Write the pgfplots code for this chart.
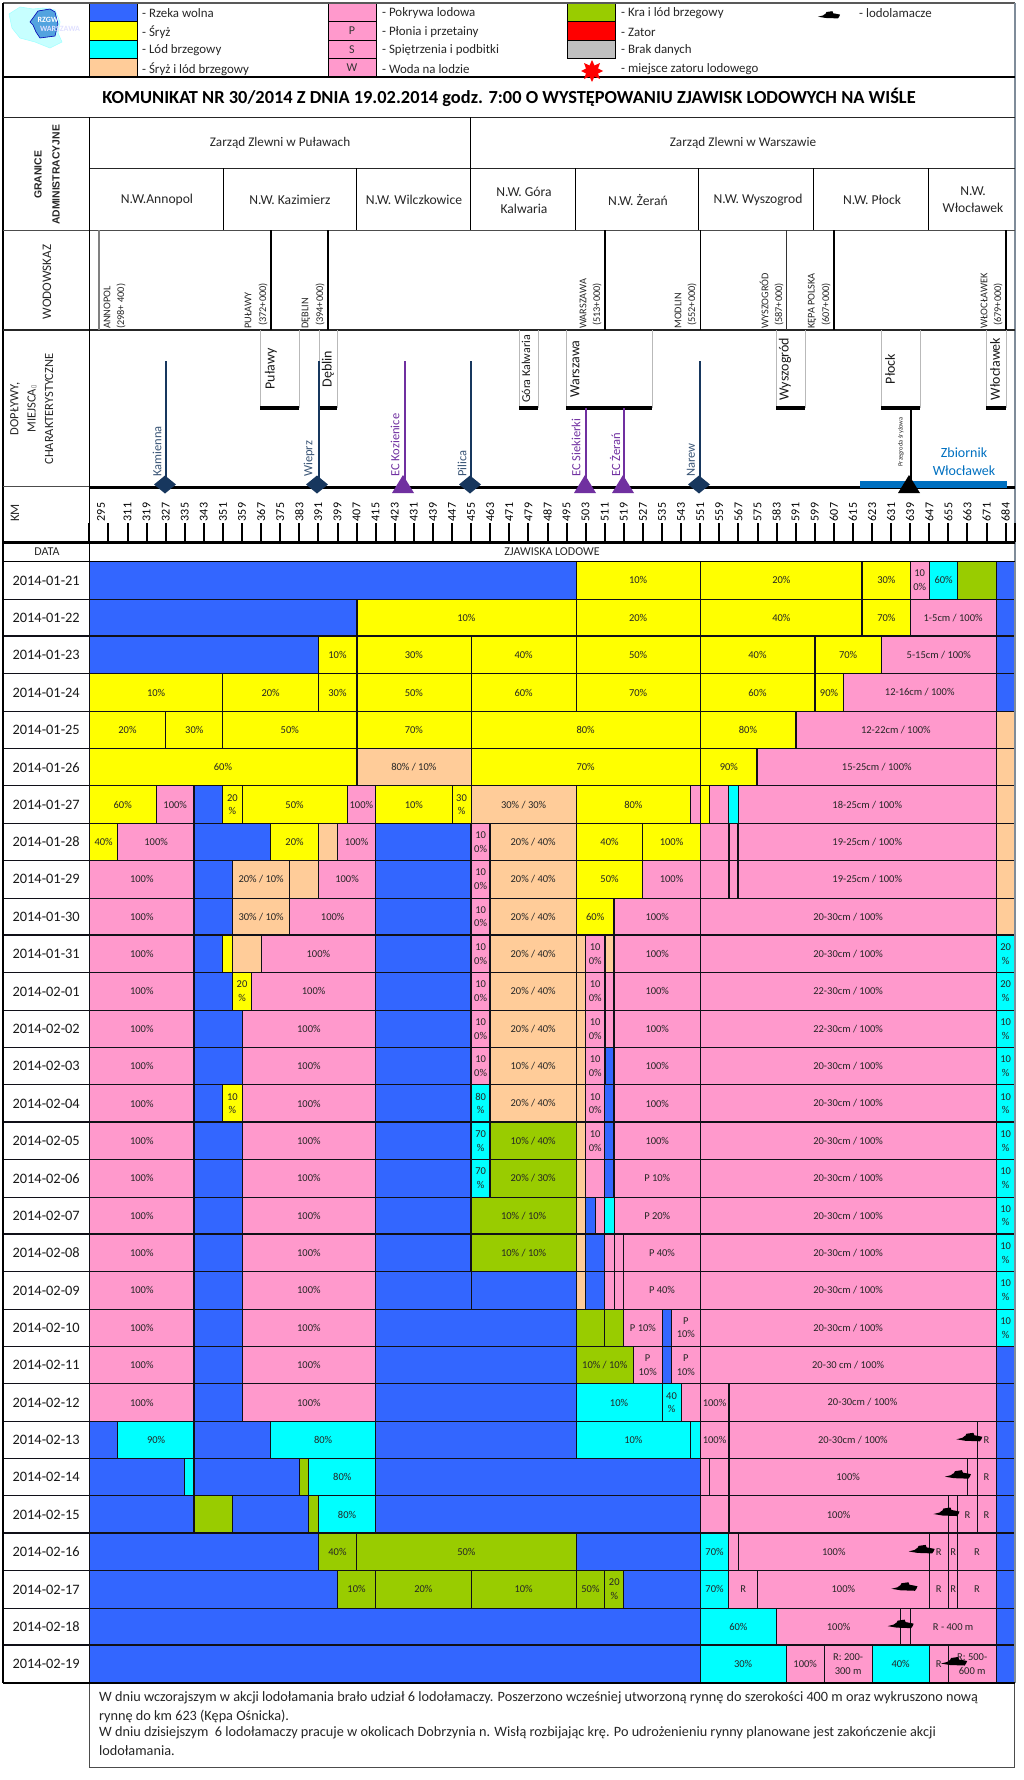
\documentclass[border=0pt]{standalone}
\usepackage{fontspec}
\setmainfont{Carlito}
\newfontfamily\arialf{Liberation Sans}
\newfontfamily\dejaf{DejaVu Sans}
\usepackage{pgfplots}
\pgfplotsset{compat=1.18}
\definecolor{cB}{HTML}{3366FF}
\definecolor{cY}{HTML}{FFFF00}
\definecolor{cC}{HTML}{00FFFF}
\definecolor{cO}{HTML}{FFCC99}
\definecolor{cP}{HTML}{FF99CC}
\definecolor{cG}{HTML}{99CC00}
\definecolor{cR}{HTML}{FF0000}
\definecolor{cS}{HTML}{C0C0C0}
\definecolor{navy}{HTML}{17375E}
\definecolor{purp}{HTML}{7030A0}
\definecolor{zb}{HTML}{0070C0}
\definecolor{edge}{HTML}{7F8C99}
\definecolor{ln}{HTML}{101018}
\pgfdeclareplotmark{dia}{\pgfpathmoveto{\pgfqpoint{-11pt}{0pt}}\pgfpathlineto{\pgfqpoint{0pt}{9pt}}\pgfpathlineto{\pgfqpoint{11pt}{0pt}}\pgfpathlineto{\pgfqpoint{0pt}{-9pt}}\pgfpathclose\pgfusepathqfill}
\pgfdeclareplotmark{tri}{\pgfpathmoveto{\pgfqpoint{-11pt}{-6pt}}\pgfpathlineto{\pgfqpoint{0pt}{12pt}}\pgfpathlineto{\pgfqpoint{11pt}{-6pt}}\pgfpathclose\pgfusepathqfill}
\pgfdeclareplotmark{kmt}{\pgfpathmoveto{\pgfqpoint{0pt}{0pt}}\pgfpathlineto{\pgfqpoint{0pt}{19pt}}\pgfusepathqstroke}
\pgfdeclareplotmark{ship}{\pgfpathmoveto{\pgfqpoint{-13pt}{-2pt}}\pgfpathlineto{\pgfqpoint{-7pt}{-0.5pt}}\pgfpathlineto{\pgfqpoint{-5pt}{1pt}}\pgfpathlineto{\pgfqpoint{-4pt}{1.5pt}}\pgfpathlineto{\pgfqpoint{-3pt}{3.5pt}}\pgfpathlineto{\pgfqpoint{4pt}{4.5pt}}\pgfpathlineto{\pgfqpoint{5pt}{2pt}}\pgfpathlineto{\pgfqpoint{8pt}{1.5pt}}\pgfpathlineto{\pgfqpoint{13pt}{0.5pt}}\pgfpathlineto{\pgfqpoint{12pt}{-2pt}}\pgfpathlineto{\pgfqpoint{10.5pt}{-4pt}}\pgfpathlineto{\pgfqpoint{-4pt}{-3.5pt}}\pgfpathclose\pgfusepathqfill}
\pgfdeclareplotmark{burst}{\pgfpathmoveto{\pgfqpoint{0pt}{11pt}}\pgfpathlineto{\pgfqpoint{2.5pt}{5.5pt}}\pgfpathlineto{\pgfqpoint{8pt}{8pt}}\pgfpathlineto{\pgfqpoint{6pt}{2.5pt}}\pgfpathlineto{\pgfqpoint{11pt}{0pt}}\pgfpathlineto{\pgfqpoint{6pt}{-2.5pt}}\pgfpathlineto{\pgfqpoint{8pt}{-8pt}}\pgfpathlineto{\pgfqpoint{2.5pt}{-5.5pt}}\pgfpathlineto{\pgfqpoint{0pt}{-11pt}}\pgfpathlineto{\pgfqpoint{-2.5pt}{-5.5pt}}\pgfpathlineto{\pgfqpoint{-8pt}{-8pt}}\pgfpathlineto{\pgfqpoint{-6pt}{-2.5pt}}\pgfpathlineto{\pgfqpoint{-11pt}{0pt}}\pgfpathlineto{\pgfqpoint{-6pt}{2.5pt}}\pgfpathlineto{\pgfqpoint{-8pt}{8pt}}\pgfpathlineto{\pgfqpoint{-2.5pt}{5.5pt}}\pgfpathclose\pgfusepathqfill}
% one coloured stretch of river in one day's row
\newcommand\Seg[5]{%
 \pgfmathsetmacro\sb{#1+1}\pgfmathsetmacro\sm{(#2+#3)/2}\pgfmathsetmacro\sc{#1+.5}%
 \edef\tmp{\noexpand\addplot[fill=#4,draw=ln,line width=1pt] coordinates {(#2,#1)(#3,#1)(#3,\sb)(#2,\sb)} --cycle;}\tmp
 \if\relax\detokenize{#5}\relax\else
 \edef\tmp{\noexpand\node[align=center,inner sep=0pt,text=black!85,font=\noexpand\fontsize{10.5}{13.7}\noexpand\selectfont] at (axis cs:\sm,\sc) {\unexpanded{#5}};}\tmp
 \fi}
\newcommand\Day[2]{%
 \pgfmathsetmacro\sb{#1+1}\pgfmathsetmacro\sc{#1+.5}%
 \edef\tmp{\noexpand\addplot[fill=white,draw=ln,line width=1pt] coordinates {(-4.52,#1)(0,#1)(0,\sb)(-4.52,\sb)} --cycle;}\tmp
 \edef\tmp{\noexpand\node[inner sep=0pt,text=black!90,font=\noexpand\fontsize{14.4}{16}\noexpand\selectfont] at (axis cs:-2.26,\sc) {#2};}\tmp}
% pixel axis helpers
\newcommand\HL[6]{\addplot[#5,line width=#6pt] coordinates {(#1,#2)(#3,#4)};}
\newcommand\TK[4]{\addplot[ln,line width=2pt] coordinates {(#1,#2)(#3,#4)};}
\newcommand\Rect[6]{\addplot[fill=#5,draw=black,line width=.8pt] coordinates {(#1,#2)(#3,#2)(#3,#4)(#1,#4)} --cycle;
 \node[inner sep=0pt,font=\fontsize{12}{14}\selectfont,text=black!80] at (axis cs:{(#1+#3)/2},{(#2+#4)/2}) {#6};}
\newcommand\T[5]{\node[inner sep=0pt,align=center,text=#4,font=\fontsize{#3}{17}\selectfont] at (axis cs:#1,#2) {#5};}
\newcommand\Lt[4][12.9]{\node[inner sep=0pt,anchor=west,text=black!85,font=\fontsize{#1}{14}\selectfont] at (axis cs:#2,#3) {#4};}
\newcommand\Rt[5]{\node[inner sep=0pt,anchor=west,rotate=90,text=#4,font=\fontsize{#3}{14}\selectfont] at (axis cs:#1,#2) {#5};}
\newcommand\Bx[5]{\addplot[gray!55,line width=1pt] coordinates {(#1,330)(#1,408)};\addplot[gray!55,line width=1pt] coordinates {(#2,330)(#2,408)};\addplot[black,line width=4pt] coordinates {(#1,408)(#2,408)};\node[inner sep=0pt,rotate=90,text=black!90,font=\fontsize{#4}{14}\selectfont] at (axis cs:#3,369) {#5};}
\newcommand\Km[2]{\pgfmathsetmacro\sm{89.3+19.09*#1}\edef\tmp{\noexpand\node[inner sep=0pt,rotate=90,text=black,font=\noexpand\fontsize{12}{14}\noexpand\selectfont] at (axis cs:\sm,512) {#2};}\tmp}
\begin{document}
\begin{tikzpicture}[x=1pt,y=1pt]
\path[use as bounding box] (0,0) rectangle (1024,1780);
%================ table of days ================
\begin{axis}[at={(0,0)},anchor=south west,scale only axis,width=1024pt,height=1780pt,
 xmin=-4.678,xmax=48.963,ymin=-15.031,ymax=32.601,y dir=reverse,hide axis,clip=false]
\Day{0}{2014-01-21}\Seg{0}{0}{25.5}{cB}{}\Seg{0}{25.5}{32}{cY}{10\%}\Seg{0}{32}{40.5}{cY}{20\%}\Seg{0}{40.5}{43}{cY}{30\%}\Seg{0}{43}{44}{cP}{10\\0\%}\Seg{0}{44}{45.5}{cC}{60\%}\Seg{0}{45.5}{47.5}{cG}{}\Seg{0}{47.5}{48.5}{cB}{}
\Day{1}{2014-01-22}\Seg{1}{0}{14}{cB}{}\Seg{1}{14}{25.5}{cY}{10\%}\Seg{1}{25.5}{32}{cY}{20\%}\Seg{1}{32}{40.5}{cY}{40\%}\Seg{1}{40.5}{43}{cY}{70\%}\Seg{1}{43}{47.5}{cP}{1-5cm / 100\%}\Seg{1}{47.5}{48.5}{cB}{}
\Day{2}{2014-01-23}\Seg{2}{0}{12}{cB}{}\Seg{2}{12}{14}{cY}{10\%}\Seg{2}{14}{20}{cY}{30\%}\Seg{2}{20}{25.5}{cY}{40\%}\Seg{2}{25.5}{32}{cY}{50\%}\Seg{2}{32}{38}{cY}{40\%}\Seg{2}{38}{41.5}{cY}{70\%}\Seg{2}{41.5}{47.5}{cP}{5-15cm / 100\%}\Seg{2}{47.5}{48.5}{cB}{}
\Day{3}{2014-01-24}\Seg{3}{0}{7}{cY}{10\%}\Seg{3}{7}{12}{cY}{20\%}\Seg{3}{12}{14}{cY}{30\%}\Seg{3}{14}{20}{cY}{50\%}\Seg{3}{20}{25.5}{cY}{60\%}\Seg{3}{25.5}{32}{cY}{70\%}\Seg{3}{32}{38}{cY}{60\%}\Seg{3}{38}{39.5}{cY}{90\%}\Seg{3}{39.5}{47.5}{cP}{12-16cm / 100\%}\Seg{3}{47.5}{48.5}{cB}{}
\Day{4}{2014-01-25}\Seg{4}{0}{4}{cY}{20\%}\Seg{4}{4}{7}{cY}{30\%}\Seg{4}{7}{14}{cY}{50\%}\Seg{4}{14}{20}{cY}{70\%}\Seg{4}{20}{32}{cY}{80\%}\Seg{4}{32}{37}{cY}{80\%}\Seg{4}{37}{47.5}{cP}{12-22cm / 100\%}\Seg{4}{47.5}{48.5}{cO}{}
\Day{5}{2014-01-26}\Seg{5}{0}{14}{cY}{60\%}\Seg{5}{14}{20}{cO}{80\% / 10\%}\Seg{5}{20}{32}{cY}{70\%}\Seg{5}{32}{35}{cY}{90\%}\Seg{5}{35}{47.5}{cP}{15-25cm / 100\%}\Seg{5}{47.5}{48.5}{cO}{}
\Day{6}{2014-01-27}\Seg{6}{0}{3.5}{cY}{60\%}\Seg{6}{3.5}{5.5}{cP}{100\%}\Seg{6}{5.5}{7}{cB}{}\Seg{6}{7}{8}{cY}{20\\\%}\Seg{6}{8}{13.5}{cY}{50\%}\Seg{6}{13.5}{15}{cP}{100\%}\Seg{6}{15}{19}{cY}{10\%}\Seg{6}{19}{20}{cY}{30\\\%}\Seg{6}{20}{25.5}{cO}{30\% / 30\%}\Seg{6}{25.5}{31.5}{cY}{80\%}\Seg{6}{31.5}{32}{cP}{}\Seg{6}{32}{32.5}{cY}{}\Seg{6}{32.5}{33.5}{cP}{}\Seg{6}{33.5}{34}{cC}{}\Seg{6}{34}{47.5}{cP}{18-25cm / 100\%}\Seg{6}{47.5}{48.5}{cO}{}
\Day{7}{2014-01-28}\Seg{7}{0}{1.5}{cY}{40\%}\Seg{7}{1.5}{5.5}{cP}{100\%}\Seg{7}{5.5}{9.5}{cB}{}\Seg{7}{9.5}{12}{cY}{20\%}\Seg{7}{12}{13}{cO}{}\Seg{7}{13}{15}{cP}{100\%}\Seg{7}{15}{20}{cB}{}\Seg{7}{20}{21}{cP}{10\\0\%}\Seg{7}{21}{25.5}{cO}{20\% / 40\%}\Seg{7}{25.5}{29}{cY}{40\%}\Seg{7}{29}{32}{cY}{100\%}\Seg{7}{32}{33.5}{cP}{}\Seg{7}{33.5}{34}{cP}{}\Seg{7}{34}{47.5}{cP}{19-25cm / 100\%}\Seg{7}{47.5}{48.5}{cO}{}
\Day{8}{2014-01-29}\Seg{8}{0}{5.5}{cP}{100\%}\Seg{8}{5.5}{7.5}{cB}{}\Seg{8}{7.5}{10.5}{cO}{20\% / 10\%}\Seg{8}{10.5}{12}{cO}{}\Seg{8}{12}{15}{cP}{100\%}\Seg{8}{15}{20}{cB}{}\Seg{8}{20}{21}{cP}{10\\0\%}\Seg{8}{21}{25.5}{cO}{20\% / 40\%}\Seg{8}{25.5}{29}{cY}{50\%}\Seg{8}{29}{32}{cP}{100\%}\Seg{8}{32}{33.5}{cP}{}\Seg{8}{33.5}{34}{cP}{}\Seg{8}{34}{47.5}{cP}{19-25cm / 100\%}\Seg{8}{47.5}{48.5}{cO}{}
\Day{9}{2014-01-30}\Seg{9}{0}{5.5}{cP}{100\%}\Seg{9}{5.5}{7.5}{cB}{}\Seg{9}{7.5}{10.5}{cO}{30\% / 10\%}\Seg{9}{10.5}{15}{cP}{100\%}\Seg{9}{15}{20}{cB}{}\Seg{9}{20}{21}{cP}{10\\0\%}\Seg{9}{21}{25.5}{cO}{20\% / 40\%}\Seg{9}{25.5}{27.5}{cY}{60\%}\Seg{9}{27.5}{32}{cP}{100\%}\Seg{9}{32}{47.5}{cP}{20-30cm / 100\%}\Seg{9}{47.5}{48.5}{cO}{}
\Day{10}{2014-01-31}\Seg{10}{0}{5.5}{cP}{100\%}\Seg{10}{5.5}{7}{cB}{}\Seg{10}{7}{7.5}{cY}{}\Seg{10}{7.5}{9}{cO}{}\Seg{10}{9}{15}{cP}{100\%}\Seg{10}{15}{20}{cB}{}\Seg{10}{20}{21}{cP}{10\\0\%}\Seg{10}{21}{25.5}{cO}{20\% / 40\%}\Seg{10}{25.5}{26}{cO}{}\Seg{10}{26}{27}{cP}{10\\0\%}\Seg{10}{27}{27.5}{cO}{}\Seg{10}{27.5}{32}{cP}{100\%}\Seg{10}{32}{47.5}{cP}{20-30cm / 100\%}\Seg{10}{47.5}{48.5}{cC}{20\\\%}
\Day{11}{2014-02-01}\Seg{11}{0}{5.5}{cP}{100\%}\Seg{11}{5.5}{7.5}{cB}{}\Seg{11}{7.5}{8.5}{cY}{20\\\%}\Seg{11}{8.5}{15}{cP}{100\%}\Seg{11}{15}{20}{cB}{}\Seg{11}{20}{21}{cP}{10\\0\%}\Seg{11}{21}{25.5}{cO}{20\% / 40\%}\Seg{11}{25.5}{26}{cO}{}\Seg{11}{26}{27}{cP}{10\\0\%}\Seg{11}{27}{27.5}{cP}{}\Seg{11}{27.5}{32}{cP}{100\%}\Seg{11}{32}{47.5}{cP}{22-30cm / 100\%}\Seg{11}{47.5}{48.5}{cC}{20\\\%}
\Day{12}{2014-02-02}\Seg{12}{0}{5.5}{cP}{100\%}\Seg{12}{5.5}{8}{cB}{}\Seg{12}{8}{15}{cP}{100\%}\Seg{12}{15}{20}{cB}{}\Seg{12}{20}{21}{cP}{10\\0\%}\Seg{12}{21}{25.5}{cO}{20\% / 40\%}\Seg{12}{25.5}{26}{cO}{}\Seg{12}{26}{27}{cP}{10\\0\%}\Seg{12}{27}{27.5}{cP}{}\Seg{12}{27.5}{32}{cP}{100\%}\Seg{12}{32}{47.5}{cP}{22-30cm / 100\%}\Seg{12}{47.5}{48.5}{cC}{10\\\%}
\Day{13}{2014-02-03}\Seg{13}{0}{5.5}{cP}{100\%}\Seg{13}{5.5}{8}{cB}{}\Seg{13}{8}{15}{cP}{100\%}\Seg{13}{15}{20}{cB}{}\Seg{13}{20}{21}{cP}{10\\0\%}\Seg{13}{21}{25.5}{cO}{10\% / 40\%}\Seg{13}{25.5}{26}{cO}{}\Seg{13}{26}{27}{cP}{10\\0\%}\Seg{13}{27}{27.5}{cB}{}\Seg{13}{27.5}{32}{cP}{100\%}\Seg{13}{32}{47.5}{cP}{20-30cm / 100\%}\Seg{13}{47.5}{48.5}{cC}{10\\\%}
\Day{14}{2014-02-04}\Seg{14}{0}{5.5}{cP}{100\%}\Seg{14}{5.5}{7}{cB}{}\Seg{14}{7}{8}{cY}{10\\\%}\Seg{14}{8}{15}{cP}{100\%}\Seg{14}{15}{20}{cB}{}\Seg{14}{20}{21}{cC}{80\\\%}\Seg{14}{21}{25.5}{cO}{20\% / 40\%}\Seg{14}{25.5}{26}{cO}{}\Seg{14}{26}{27}{cP}{10\\0\%}\Seg{14}{27}{27.5}{cB}{}\Seg{14}{27.5}{32}{cP}{100\%}\Seg{14}{32}{47.5}{cP}{20-30cm / 100\%}\Seg{14}{47.5}{48.5}{cC}{10\\\%}
\Day{15}{2014-02-05}\Seg{15}{0}{5.5}{cP}{100\%}\Seg{15}{5.5}{8}{cB}{}\Seg{15}{8}{15}{cP}{100\%}\Seg{15}{15}{20}{cB}{}\Seg{15}{20}{21}{cC}{70\\\%}\Seg{15}{21}{25.5}{cG}{10\% / 40\%}\Seg{15}{25.5}{26}{cO}{}\Seg{15}{26}{27}{cP}{10\\0\%}\Seg{15}{27}{27.5}{cB}{}\Seg{15}{27.5}{32}{cP}{100\%}\Seg{15}{32}{47.5}{cP}{20-30cm / 100\%}\Seg{15}{47.5}{48.5}{cC}{10\\\%}
\Day{16}{2014-02-06}\Seg{16}{0}{5.5}{cP}{100\%}\Seg{16}{5.5}{8}{cB}{}\Seg{16}{8}{15}{cP}{100\%}\Seg{16}{15}{20}{cB}{}\Seg{16}{20}{21}{cC}{70\\\%}\Seg{16}{21}{25.5}{cG}{20\% / 30\%}\Seg{16}{25.5}{26}{cO}{}\Seg{16}{26}{27}{cP}{}\Seg{16}{27}{27.5}{cB}{}\Seg{16}{27.5}{32}{cP}{P 10\%}\Seg{16}{32}{47.5}{cP}{20-30cm / 100\%}\Seg{16}{47.5}{48.5}{cC}{10\\\%}
\Day{17}{2014-02-07}\Seg{17}{0}{5.5}{cP}{100\%}\Seg{17}{5.5}{8}{cB}{}\Seg{17}{8}{15}{cP}{100\%}\Seg{17}{15}{20}{cB}{}\Seg{17}{20}{25.5}{cG}{10\% / 10\%}\Seg{17}{25.5}{26}{cO}{}\Seg{17}{26}{26.5}{cB}{}\Seg{17}{26.5}{27}{cP}{}\Seg{17}{27}{27.5}{cC}{}\Seg{17}{27.5}{32}{cP}{P 20\%}\Seg{17}{32}{47.5}{cP}{20-30cm / 100\%}\Seg{17}{47.5}{48.5}{cC}{10\\\%}
\Day{18}{2014-02-08}\Seg{18}{0}{5.5}{cP}{100\%}\Seg{18}{5.5}{8}{cB}{}\Seg{18}{8}{15}{cP}{100\%}\Seg{18}{15}{20}{cB}{}\Seg{18}{20}{25.5}{cG}{10\% / 10\%}\Seg{18}{25.5}{26}{cO}{}\Seg{18}{26}{27}{cB}{}\Seg{18}{27}{27.5}{cP}{}\Seg{18}{27.5}{28}{cP}{}\Seg{18}{28}{32}{cP}{P 40\%}\Seg{18}{32}{47.5}{cP}{20-30cm / 100\%}\Seg{18}{47.5}{48.5}{cC}{10\\\%}
\Day{19}{2014-02-09}\Seg{19}{0}{5.5}{cP}{100\%}\Seg{19}{5.5}{8}{cB}{}\Seg{19}{8}{15}{cP}{100\%}\Seg{19}{15}{20}{cB}{}\Seg{19}{20}{25.5}{cB}{}\Seg{19}{25.5}{26}{cO}{}\Seg{19}{26}{27}{cB}{}\Seg{19}{27}{27.5}{cP}{}\Seg{19}{27.5}{28}{cP}{}\Seg{19}{28}{32}{cP}{P 40\%}\Seg{19}{32}{47.5}{cP}{20-30cm / 100\%}\Seg{19}{47.5}{48.5}{cC}{10\\\%}
\Day{20}{2014-02-10}\Seg{20}{0}{5.5}{cP}{100\%}\Seg{20}{5.5}{8}{cB}{}\Seg{20}{8}{15}{cP}{100\%}\Seg{20}{15}{25.5}{cB}{}\Seg{20}{25.5}{27}{cG}{}\Seg{20}{27}{28}{cG}{}\Seg{20}{28}{30}{cP}{P 10\%}\Seg{20}{30}{30.5}{cB}{}\Seg{20}{30.5}{32}{cP}{P\\10\%}\Seg{20}{32}{47.5}{cP}{20-30cm / 100\%}\Seg{20}{47.5}{48.5}{cC}{10\\\%}
\Day{21}{2014-02-11}\Seg{21}{0}{5.5}{cP}{100\%}\Seg{21}{5.5}{8}{cB}{}\Seg{21}{8}{15}{cP}{100\%}\Seg{21}{15}{25.5}{cB}{}\Seg{21}{25.5}{28.5}{cG}{10\% / 10\%}\Seg{21}{28.5}{30}{cP}{P\\10\%}\Seg{21}{30}{30.5}{cB}{}\Seg{21}{30.5}{32}{cP}{P\\10\%}\Seg{21}{32}{47.5}{cP}{20-30 cm / 100\%}\Seg{21}{47.5}{48.5}{cB}{}
\Day{22}{2014-02-12}\Seg{22}{0}{5.5}{cP}{100\%}\Seg{22}{5.5}{8}{cB}{}\Seg{22}{8}{15}{cP}{100\%}\Seg{22}{15}{25.5}{cB}{}\Seg{22}{25.5}{30}{cC}{10\%}\Seg{22}{30}{31}{cC}{40\\\%}\Seg{22}{31}{32}{cP}{}\Seg{22}{32}{33.5}{cP}{100\%}\Seg{22}{33.5}{47.5}{cP}{20-30cm / 100\%}\Seg{22}{47.5}{48.5}{cB}{}
\Day{23}{2014-02-13}\Seg{23}{0}{1.5}{cB}{}\Seg{23}{1.5}{5.5}{cC}{90\%}\Seg{23}{5.5}{9.5}{cB}{}\Seg{23}{9.5}{15}{cC}{80\%}\Seg{23}{15}{25.5}{cB}{}\Seg{23}{25.5}{31.5}{cC}{10\%}\Seg{23}{31.5}{32}{cC}{}\Seg{23}{32}{33.5}{cP}{100\%}\Seg{23}{33.5}{46.5}{cP}{20-30cm / 100\%}\Seg{23}{46.5}{47.5}{cP}{R}\Seg{23}{47.5}{48.5}{cB}{}
\Day{24}{2014-02-14}\Seg{24}{0}{5}{cB}{}\Seg{24}{5}{5.5}{cC}{}\Seg{24}{5.5}{11}{cB}{}\Seg{24}{11}{11.5}{cG}{}\Seg{24}{11.5}{15}{cC}{80\%}\Seg{24}{15}{32}{cB}{}\Seg{24}{32}{32.5}{cP}{}\Seg{24}{32.5}{33.5}{cP}{}\Seg{24}{33.5}{46}{cP}{100\%}\Seg{24}{46}{46.5}{cP}{}\Seg{24}{46.5}{47.5}{cP}{R}\Seg{24}{47.5}{48.5}{cB}{}
\Day{25}{2014-02-15}\Seg{25}{0}{5.5}{cB}{}\Seg{25}{5.5}{7.5}{cG}{}\Seg{25}{7.5}{11.5}{cB}{}\Seg{25}{11.5}{12}{cG}{}\Seg{25}{12}{15}{cC}{80\%}\Seg{25}{15}{32}{cB}{}\Seg{25}{32}{33.5}{cP}{}\Seg{25}{33.5}{45}{cP}{100\%}\Seg{25}{45}{45.5}{cP}{}\Seg{25}{45.5}{46.5}{cP}{R}\Seg{25}{46.5}{47.5}{cP}{R}\Seg{25}{47.5}{48.5}{cB}{}
\Day{26}{2014-02-16}\Seg{26}{0}{12}{cB}{}\Seg{26}{12}{14}{cG}{40\%}\Seg{26}{14}{25.5}{cG}{50\%}\Seg{26}{25.5}{32}{cB}{}\Seg{26}{32}{33.5}{cC}{70\%}\Seg{26}{33.5}{34}{cP}{}\Seg{26}{34}{44}{cP}{100\%}\Seg{26}{44}{45}{cP}{R}\Seg{26}{45}{45.5}{cP}{R}\Seg{26}{45.5}{47.5}{cP}{R}\Seg{26}{47.5}{48.5}{cB}{}
\Day{27}{2014-02-17}\Seg{27}{0}{13}{cB}{}\Seg{27}{13}{15}{cG}{10\%}\Seg{27}{15}{20}{cG}{20\%}\Seg{27}{20}{25.5}{cG}{10\%}\Seg{27}{25.5}{27}{cG}{50\%}\Seg{27}{27}{28}{cG}{20\\\%}\Seg{27}{28}{32}{cB}{}\Seg{27}{32}{33.5}{cC}{70\%}\Seg{27}{33.5}{35}{cP}{R}\Seg{27}{35}{44}{cP}{100\%}\Seg{27}{44}{45}{cP}{R}\Seg{27}{45}{45.5}{cP}{R}\Seg{27}{45.5}{47.5}{cP}{R}\Seg{27}{47.5}{48.5}{cB}{}
\Day{28}{2014-02-18}\Seg{28}{0}{32}{cB}{}\Seg{28}{32}{36}{cC}{60\%}\Seg{28}{36}{42.5}{cP}{100\%}\Seg{28}{42.5}{43}{cP}{}\Seg{28}{43}{47.5}{cP}{R - 400 m}\Seg{28}{47.5}{48.5}{cB}{}
\Day{29}{2014-02-19}\Seg{29}{0}{32}{cB}{}\Seg{29}{32}{36.5}{cC}{30\%}\Seg{29}{36.5}{38.5}{cP}{100\%}\Seg{29}{38.5}{41}{cP}{R: 200-\\300 m}\Seg{29}{41}{44}{cC}{40\%}\Seg{29}{44}{45}{cP}{R}\Seg{29}{45}{47.5}{cP}{R: 500-\\600 m}\Seg{29}{47.5}{48.5}{cB}{}
% heavier rules
\TK{5.5}{6}{5.5}{26}\TK{21}{7}{21}{17}\TK{27}{10}{27}{14}\TK{33.5}{7}{33.5}{9}\TK{34}{7}{34}{9}\TK{33.5}{22}{33.5}{26}\TK{27.5}{9}{27.5}{17}\TK{40.5}{0}{40.5}{2}\TK{38}{2}{38}{4}\TK{37}{4}{37}{5}\TK{35}{5}{35}{6}\TK{14}{1}{14}{6}\TK{20}{7}{20}{19}
\TK{-4.52}{2}{48.5}{2}\TK{-4.52}{10}{48.5}{10}\TK{-4.52}{15}{48.5}{15}\TK{-4.52}{18}{48.5}{18}\TK{-4.52}{26}{48.5}{26}\TK{-4.52}{29}{48.5}{29}
% icebreakers
\addplot[only marks,mark=ship,mark options={fill=black,draw=none}] coordinates {(46.1,23.43)(45.5,24.43)(44.9,25.43)(43.6,26.43)(42.7,27.43)(42.5,28.43)(45.3,29.43)};
\end{axis}
%================ header, in reference pixels ================
\begin{axis}[at={(0,0)},anchor=south west,scale only axis,width=1024pt,height=1780pt,
 xmin=0,xmax=1024,ymin=0,ymax=1780,y dir=reverse,hide axis,clip=false]
% logo
\addplot[fill=cC!22,draw=cC!35,line width=.6pt] coordinates {(9,14)(20,7)(33,9)(43,8)(55,10)(60,22)(58,33)(62,42)(50,48)(35,42)(20,38)(12,28)} --cycle;
\addplot[fill=cyan!70!blue!70,draw=blue!70!black,line width=.6pt] coordinates {(30,22)(38,11)(50,9)(55,12)(58,24)(55,36)(40,38)(36,32)(33,25)} --cycle;
\node[inner sep=0pt,text=white,font=\fontsize{8}{9}\selectfont\bfseries] at (axis cs:48,20) {RZGW};
\node[inner sep=0pt,text=blue!12,font=\fontsize{8}{9}\selectfont\bfseries] at (axis cs:60,29) {WARSZAWA};
% legend
\Rect{89}{2.7}{137}{21}{cB}{}\Rect{89}{21}{137}{40}{cY}{}\Rect{89}{40}{137}{58.7}{cC}{}\Rect{89}{58.7}{137}{77}{cO}{}
\Rect{328}{2.7}{376}{21}{cP}{}\Rect{328}{21}{376}{40}{cP}{P}\Rect{328}{40}{376}{58.7}{cP}{S}\Rect{328}{58.7}{376}{77}{cP}{W}
\Rect{567}{2.7}{615}{21}{cG}{}\Rect{567}{21}{615}{40}{cR}{}\Rect{567}{40}{615}{58.7}{cS}{}
\Lt{142}{13}{- Rzeka wolna}\Lt{142}{32}{- Śryż}\Lt{142}{50}{- Lód brzegowy}\Lt{142}{69}{- Śryż i lód brzegowy}
\Lt{382}{13}{- Pokrywa lodowa}\Lt{382}{32}{- Płonia i przetainy}\Lt{382}{50}{- Spiętrzenia i podbitki}\Lt{382}{69}{- Woda na lodzie}
\Lt{621}{13}{- Kra i lód brzegowy}\Lt{621}{32}{- Zator}\Lt{621}{50}{- Brak danych}\Lt{621}{69}{- miejsce zatoru lodowego}
\Lt{859}{13}{- lodolamacze}
\addplot[only marks,mark=ship,mark options={fill=black,draw=none,scale=.85}] coordinates {(829,15)};
\addplot[only marks,mark=burst,mark options={fill=cR,draw=none}] coordinates {(592,71)};
% frame
\HL{3}{3}{1015}{3}{black!65}{1.5}\HL{3}{3}{3}{1683}{black}{1.5}\HL{1015}{3}{1015}{1683}{edge}{1.5}
\HL{3}{77}{1015}{77}{black}{2}\HL{3}{117}{1015}{117}{black!85}{1}
\HL{89}{168}{1015}{168}{black!85}{1}\HL{3}{230.7}{1015}{230.7}{black!70}{1.2}\HL{3}{330}{1015}{330}{black!85}{1.2}
\HL{3}{486}{89}{486}{black!70}{.8}\HL{3}{561.5}{1015}{561.5}{black}{1}
\HL{3}{542}{1015}{542}{black}{3}
\HL{89}{117}{89}{230}{black}{1}\HL{89}{230}{89}{561}{black}{1}
\HL{470}{117}{470}{230}{black}{1}
\HL{223}{168}{223}{230}{black}{1}\HL{356}{168}{356}{230}{black}{1}\HL{575}{168}{575}{230}{black}{1}\HL{698}{168}{698}{230}{black}{1}\HL{813}{168}{813}{230}{black}{1}\HL{928}{168}{928}{230}{black}{1}
% title and administrative rows
\node[inner sep=0pt,text=black,font=\fontsize{18.4}{20}\selectfont\bfseries] at (axis cs:509,97) {KOMUNIKAT NR 30/2014 Z DNIA 19.02.2014 godz. 7:00 O WYSTĘPOWANIU ZJAWISK LODOWYCH NA WIŚLE};
\T{280}{143}{13.2}{black!85}{Zarząd Zlewni w Puławach}\T{743}{143}{13.2}{black!85}{Zarząd Zlewni w Warszawie}
\T{157}{200}{13.6}{black!85}{N.W.Annopol}\T{290}{200}{13.6}{black!85}{N.W. Kazimierz}\T{414}{200}{13.6}{black!85}{N.W. Wilczkowice}
\T{524}{200}{13.6}{black!85}{N.W. Góra\\Kalwaria}\T{638}{200}{13.6}{black!85}{N.W. Żerań}\T{758}{200}{13.6}{black!85}{N.W. Wyszogrod}\T{872}{200}{13.6}{black!85}{N.W. Płock}\T{973}{200}{13.6}{black!85}{N.W.\\Włocławek}
\node[inner sep=0pt,rotate=90,text=black!85,font=\arialf\bfseries\fontsize{10.4}{12}\selectfont] at (axis cs:38,175) {GRANICE};
\node[inner sep=0pt,rotate=90,text=black!85,font=\arialf\bfseries\fontsize{10.4}{12}\selectfont] at (axis cs:56,175) {ADMINISTRACYJNE};
\node[inner sep=0pt,rotate=90,text=black!85,font=\fontsize{13}{15}\selectfont] at (axis cs:47,282) {WODOWSKAZ};
\node[inner sep=0pt,rotate=90,text=black!85,font=\fontsize{12.5}{15}\selectfont] at (axis cs:15,409) {DOPŁYWY,};
\node[inner sep=0pt,rotate=90,text=black!85,font=\fontsize{12.5}{15}\selectfont] at (axis cs:32,409) {MIEJSCA{\dejaf\fontsize{6}{8}\selectfont ▯}};
\node[inner sep=0pt,rotate=90,text=black!85,font=\fontsize{12.5}{15}\selectfont] at (axis cs:49,409) {CHARAKTERYSTYCZNE};
\node[inner sep=0pt,rotate=90,text=black!85,font=\fontsize{13}{15}\selectfont] at (axis cs:15,513) {KM};
\T{47}{552}{12}{black!85}{DATA}\T{552}{552}{12}{black!85}{ZJAWISKA LODOWE}
% gauges
\HL{99}{230}{99}{330}{gray}{1.5}\HL{271}{230}{271}{330}{black}{1.2}\HL{328}{230}{328}{330}{black}{1.2}\HL{605}{230}{605}{330}{black}{1.2}\HL{700}{230}{700}{330}{black}{1}\HL{786}{230}{786}{330}{black!80}{1}\HL{834}{230}{834}{330}{black}{1.2}\HL{1006}{230}{1006}{330}{black}{1.2}
\Rt{107}{329}{10.3}{black!85}{ANNOPOL}\Rt{121}{329}{10.3}{black!85}{(298+ 400)}
\Rt{248}{329}{10.3}{black!85}{PUŁAWY}\Rt{263}{326}{10.3}{black!85}{(372+000)}
\Rt{306}{329}{10.3}{black!85}{DĘBLIN}\Rt{320}{326}{10.3}{black!85}{(394+000)}
\Rt{583}{329}{10.3}{black!85}{WARSZAWA}\Rt{597}{326}{10.3}{black!85}{(513+000)}
\Rt{678}{329}{10.3}{black!85}{MODLIN}\Rt{692}{326}{10.3}{black!85}{(552+000)}
\Rt{764}{329}{10.3}{black!85}{WYSZOGRÓD}\Rt{779}{326}{10.3}{black!85}{(587+000)}
\Rt{812}{329}{10.3}{black!85}{KĘPA POLSKA}\Rt{826}{326}{10.3}{black!85}{(607+000)}
\Rt{984}{329}{10.3}{black!85}{WŁOCŁAWEK}\Rt{998}{326}{10.3}{black!85}{(679+000)}
% towns
\Bx{260}{299}{271}{14}{Puławy}\Bx{319}{337}{328}{14}{Dęblin}\Bx{519}{538}{526}{12}{Góra Kalwaria}\Bx{566}{652}{575}{14}{Warszawa}\Bx{776}{805}{785}{14}{Wyszogród}\Bx{881}{920}{890}{14}{Płock}\Bx{986}{1006}{995}{14}{Włocławek}
% river and reservoir
\HL{89}{487}{1015}{487}{black}{3}
\HL{860}{484.5}{1007}{484.5}{zb}{7}
% tributaries and power plants
\HL{166}{361}{166}{486}{navy}{1.5}\HL{319}{361}{319}{486}{navy}{1.5}\HL{471}{361}{471}{486}{navy}{1.5}\HL{700}{361}{700}{486}{navy}{2}
\HL{405}{361}{405}{486}{purp}{2}\HL{586}{408}{586}{486}{purp}{2}\HL{624}{408}{624}{486}{purp}{2}\HL{911}{408}{911}{486}{black}{1.5}
\addplot[only marks,mark=dia,mark options={fill=navy,draw=none}] coordinates {(165,484.5)(317,484.5)(470,484.5)(699,484.5)};
\addplot[only marks,mark=tri,mark options={fill=purp,draw=none}] coordinates {(403,487)(585,487)(623,487)};
\addplot[only marks,mark=tri,mark options={fill=black,draw=none}] coordinates {(909,487)};
\Rt{157}{477}{12.5}{navy!85}{Kamienna}\Rt{309}{477}{12.5}{navy!85}{Wieprz}\Rt{395}{477}{12.5}{purp}{EC Kozienice}\Rt{462}{477}{12.5}{navy!85}{Pilica}\Rt{576}{477}{12.5}{purp}{EC Siekierki}\Rt{615}{477}{12.5}{purp}{EC Żerań}\Rt{691}{477}{12.5}{navy!85}{Narew}
\node[inner sep=0pt,rotate=90,text=black!85,font=\fontsize{6.5}{8}\selectfont] at (axis cs:901,442) {Przegroda śryżowa};
\T{964}{453}{14}{zb}{Zbiornik}\T{964}{471}{14}{zb}{Włocławek}
% km ticks
\addplot[only marks,mark=kmt,mark options={draw=black,line width=2pt}] coordinates {(89.3,542)(108.4,542)(127.5,542)(146.6,542)(165.7,542)(184.8,542)(203.8,542)(222.9,542)(242,542)(261.1,542)(280.2,542)(299.3,542)(318.4,542)(337.5,542)(356.6,542)(375.7,542)(394.7,542)(413.8,542)(432.9,542)(452,542)(471.1,542)(490.2,542)(509.3,542)(528.4,542)(547.5,542)(566.6,542)(585.6,542)(604.7,542)(623.8,542)(642.9,542)(662,542)(681.1,542)(700.2,542)(719.3,542)(738.4,542)(757.5,542)(776.5,542)(795.6,542)(814.7,542)(833.8,542)(852.9,542)(872,542)(891.1,542)(910.2,542)(929.3,542)(948.4,542)(967.4,542)(986.5,542)(1005.6,542)(1015,542)};
\node[inner sep=0pt,rotate=90,text=black,font=\fontsize{12}{14}\selectfont] at (axis cs:101,512) {295};
\Km{2}{311}\Km{3}{319}\Km{4}{327}\Km{5}{335}\Km{6}{343}\Km{7}{351}\Km{8}{359}\Km{9}{367}\Km{10}{375}\Km{11}{383}\Km{12}{391}\Km{13}{399}\Km{14}{407}\Km{15}{415}\Km{16}{423}\Km{17}{431}\Km{18}{439}\Km{19}{447}\Km{20}{455}\Km{21}{463}\Km{22}{471}\Km{23}{479}\Km{24}{487}\Km{25}{495}\Km{26}{503}\Km{27}{511}\Km{28}{519}\Km{29}{527}\Km{30}{535}\Km{31}{543}\Km{32}{551}\Km{33}{559}\Km{34}{567}\Km{35}{575}\Km{36}{583}\Km{37}{591}\Km{38}{599}\Km{39}{607}\Km{40}{615}\Km{41}{623}\Km{42}{631}\Km{43}{639}\Km{44}{647}\Km{45}{655}\Km{46}{663}\Km{47}{671}\Km{48}{684}
% note
\addplot[fill=white,draw=black!70,line width=1pt] coordinates {(89,1683)(1014,1683)(1014,1767)(89,1767)} --cycle;
\HL{3}{1683}{1015}{1683}{black}{1.5}
\Lt[14.25]{99}{1698}{W dniu wczorajszym w akcji lodołamania brało udział 6 lodołamaczy. Poszerzono wcześniej utworzoną rynnę do szerokości 400 m oraz wykruszono nową}
\Lt[14.25]{99}{1716}{rynnę do km 623 (Kępa Ośnicka).}
\Lt[14.25]{99}{1733}{W dniu dzisiejszym\ \ 6 lodołamaczy pracuje w okolicach Dobrzynia n. Wisłą rozbijając krę. Po udrożenieniu rynny planowane jest zakończenie akcji}
\Lt[14.25]{99}{1751}{lodołamania.}
\end{axis}
\end{tikzpicture}
\end{document}
